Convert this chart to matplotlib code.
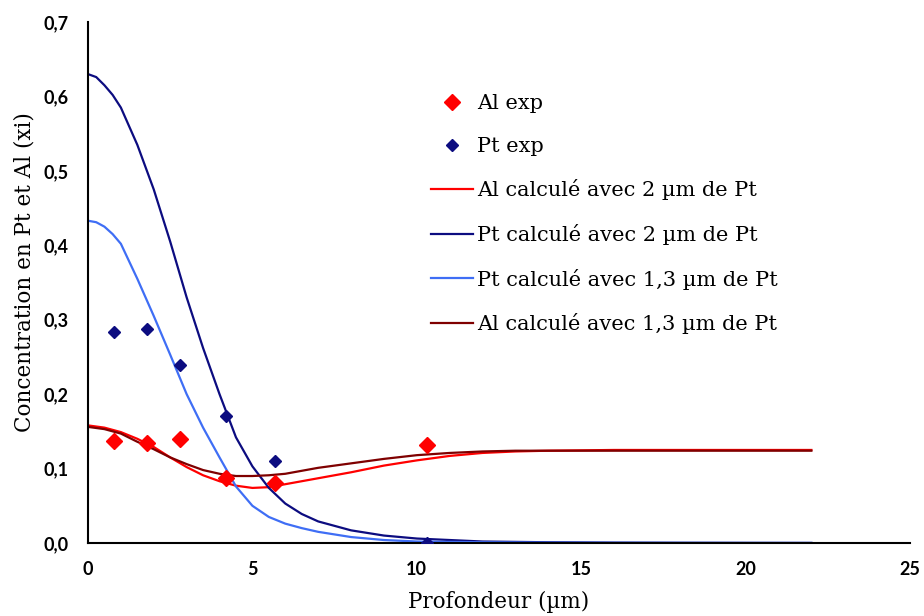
import matplotlib
matplotlib.use("Agg")
import matplotlib.pyplot as plt
from matplotlib.ticker import FuncFormatter

# ── data ───────────────────────────────────────────────────────────────────
x_exp = [0.8, 1.8, 2.8, 4.2, 5.7, 10.3]
al_exp = [0.137, 0.135, 0.140, 0.088, 0.080, 0.131]
pt_exp = [0.283, 0.287, 0.239, 0.171, 0.110, 0.000]

x_pt = [0, 0.25, 0.5, 0.75, 1, 1.5, 2, 2.5, 3, 3.5, 4, 4.5, 5, 5.5, 6, 6.5,
        7, 8, 9, 10, 12, 14, 16, 18, 20, 22]
pt_2um = [0.630, 0.626, 0.615, 0.602, 0.585, 0.535, 0.475, 0.405, 0.330,
          0.262, 0.200, 0.142, 0.103, 0.074, 0.053, 0.039, 0.029, 0.017,
          0.010, 0.006, 0.002, 0.001, 0.0005, 0.0003, 0.0002, 0.0001]
pt_13um = [0.433, 0.431, 0.425, 0.415, 0.402, 0.355, 0.305, 0.253, 0.200,
           0.155, 0.115, 0.076, 0.050, 0.035, 0.026, 0.020, 0.015, 0.008,
           0.004, 0.002, 0.001, 0.0005, 0.0003, 0.0002, 0.0001, 0.0001]

x_al = [0, 0.5, 1, 1.5, 2, 2.5, 3, 3.5, 4, 4.5, 5, 5.5, 6, 6.5, 7, 8, 9,
        10, 11, 12, 13, 14, 16, 18, 20, 22]
al_2um = [0.158, 0.155, 0.149, 0.140, 0.129, 0.115, 0.102, 0.091, 0.083,
          0.077, 0.074, 0.075, 0.079, 0.083, 0.087, 0.095, 0.104,
          0.111, 0.117, 0.121, 0.123, 0.124, 0.125, 0.125, 0.125, 0.125]
al_13um = [0.156, 0.153, 0.147, 0.136, 0.126, 0.115, 0.106, 0.098, 0.093,
           0.090, 0.090, 0.091, 0.093, 0.097, 0.101, 0.107, 0.113,
           0.118, 0.121, 0.123, 0.124, 0.124, 0.124, 0.124, 0.124, 0.124]

SERIF = "DejaVu Serif"
TICKFONT = "Lato"

fig = plt.figure(figsize=(9.24, 6.16), dpi=100)
ax = fig.add_axes([88 / 924, 73 / 616, (910 - 88) / 924, (543 - 22) / 616])

ax.plot(x_exp, al_exp, linestyle="none", marker="D", ms=8, color="#ff0000",
        label="Al exp", zorder=5)
ax.plot(x_exp, pt_exp, linestyle="none", marker="D", ms=6, color="#0c0c80",
        label="Pt exp", zorder=5)
ax.plot(x_al, al_2um, color="#ff0000", lw=1.6, label="Al calculé avec 2 µm de Pt")
ax.plot(x_pt, pt_2um, color="#0c0c80", lw=1.6, label="Pt calculé avec 2 µm de Pt")
ax.plot(x_pt, pt_13um, color="#3f6ef5", lw=1.6, label="Pt calculé avec 1,3 µm de Pt")
ax.plot(x_al, al_13um, color="#7f0000", lw=1.6, label="Al calculé avec 1,3 µm de Pt")

ax.set_xlim(0, 25)
ax.set_ylim(0, 0.7)
ax.set_xticks([0, 5, 10, 15, 20, 25])
ax.set_yticks([0, 0.1, 0.2, 0.3, 0.4, 0.5, 0.6, 0.7])
ax.yaxis.set_major_formatter(FuncFormatter(lambda v, p: f"{v:.1f}".replace(".", ",")))
ax.tick_params(axis="x", length=0, pad=13, labelsize=13)
ax.tick_params(axis="y", length=0, pad=14, labelsize=13)
for lab in ax.get_xticklabels() + ax.get_yticklabels():
    lab.set_fontfamily(TICKFONT)
    lab.set_fontweight("bold")

for s in ("top", "right"):
    ax.spines[s].set_visible(False)
for s in ("left", "bottom"):
    ax.spines[s].set_linewidth(1.5)

ax.set_xlabel("Profondeur (µm)", fontfamily=SERIF, fontsize=15.5, labelpad=9)
ax.set_ylabel("Concentration en Pt et Al (xi)", fontfamily=SERIF, fontsize=15.5,
              labelpad=10)
ax.yaxis.set_label_coords(-0.0635, 0.52)

leg = ax.legend(loc="upper left", bbox_to_anchor=(423 / 924, 1 - 86 / 616),
                bbox_transform=fig.transFigure, frameon=False,
                prop={"family": SERIF, "size": 15},
                handlelength=2.0, handletextpad=0.2, labelspacing=1.13,
                borderaxespad=0)

fig.savefig("out.png", dpi=100)
